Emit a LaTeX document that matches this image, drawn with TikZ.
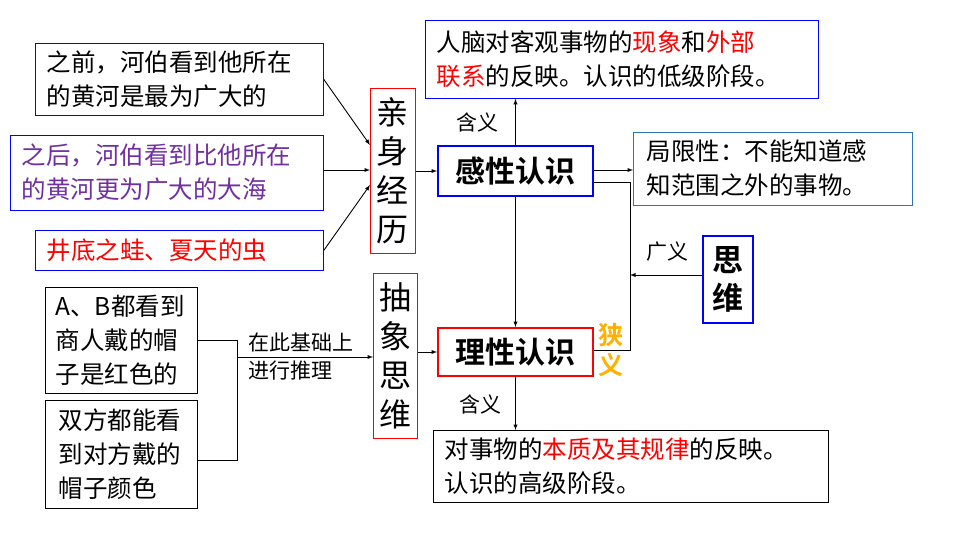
\documentclass[tikz,border=0pt]{standalone}
\usepackage{fontspec}
\setmainfont{Noto Sans CJK SC}[BoldFont={* Bold}]
\begin{document}
\begin{tikzpicture}[x=1pt,y=-1pt,
  bx/.style={draw=#1,line width=0.8pt,inner sep=0pt},
  txt/.style={font=\fontsize{24.5}{34}\selectfont,align=left,anchor=west},
  big/.style={font=\bfseries\fontsize{30}{34}\selectfont},
  lab/.style={font=\fontsize{21}{24}\selectfont},
  ar/.style={-latex,line width=0.9pt},
  ln/.style={line width=0.8pt}]
\useasboundingbox (0,0) rectangle (960,540);
\definecolor{pur}{RGB}{112,48,160}
\definecolor{org}{RGB}{255,176,0}
\definecolor{lb}{RGB}{46,117,182}
% left boxes
\node[bx=blue,minimum width=288,minimum height=72,anchor=north west] (A) at (35,43) {};
\node[txt] at (43,79) {之前，河伯看到他所在\\的黄河是最为广大的};
\node[bx=blue,minimum width=313,minimum height=75,anchor=north west] (B) at (10,135) {};
\node[txt,text=pur] at (18,172) {之后，河伯看到比他所在\\的黄河更为广大的大海};
\node[bx=blue,minimum width=288,minimum height=40,anchor=north west] (C) at (35,230) {};
\node[txt,text=red] at (43,250) {井底之蛙、夏天的虫};
\node[bx=red,minimum width=45,minimum height=165,anchor=north west] (QS) at (370,88) {};
\node[font=\fontsize{32}{39}\selectfont,align=center] at (QS.center) {亲\\身\\经\\历};
\node[bx=blue,line width=2pt,minimum width=155,minimum height=50,anchor=north west] (GX) at (437,145) {};
\node[big] at (GX.center) {感性认识};
\node[bx=blue,minimum width=393,minimum height=78,anchor=north west] (RN) at (425,20) {};
\node[txt] at (433,59) {人脑对客观事物的\textcolor{red}{现象}和\textcolor{red}{外部}\\\textcolor{red}{联系}的反映。认识的低级阶段。};
\node[bx=lb,minimum width=279,minimum height=73,anchor=north west] (JX) at (633,132) {};
\node[txt] at (643,168) {局限性：不能知道感\\知范围之外的事物。};
\node[bx=blue,line width=2pt,minimum width=50,minimum height=87,anchor=north west] (SW) at (702,235) {};
\node[font=\bfseries\fontsize{31}{38}\selectfont,align=center] at (SW.center) {思\\维};
\node[bx=red,line width=2pt,minimum width=155,minimum height=48,anchor=north west] (LX) at (437,327) {};
\node[big] at (LX.center) {理性认识};
\node[font=\bfseries\fontsize{25}{30}\selectfont,text=org,align=center] at (611,350) {狭\\义};
\node[bx=red,minimum width=44,minimum height=165,anchor=north west] (CX) at (373,273) {};
\node[font=\fontsize{32}{39}\selectfont,align=center] at (CX.center) {抽\\象\\思\\维};
\node[bx=black,minimum width=152,minimum height=106,anchor=north west] (AB) at (45,287) {};
\node[txt] at (52,340) {A、B都看到\\商人戴的帽\\子是红色的};
\node[bx=black,minimum width=152,minimum height=108,anchor=north west] (SF) at (45,400) {};
\node[txt] at (55,454) {双方都能看\\到对方戴的\\帽子颜色};
\node[font=\fontsize{21}{28}\selectfont,align=left,anchor=west] at (245,357) {在此基础上\\进行推理};
\node[bx=black,minimum width=395,minimum height=72,anchor=north west] (DS) at (433,430) {};
\node[txt] at (441,466) {对事物的\textcolor{red}{本质及其规律}的反映。\\认识的高级阶段。};
\node[lab] at (477,122) {含义};
\node[lab] at (480,404) {含义};
\node[lab] at (667,252) {广义};
% connectors
\draw[ar] (A.east) -- (QS.west |- 0,145);
\draw[ar] (B.east |- 0,170) -- (QS.west |- 0,170);
\draw[ar] (C.east) -- (QS.west |- 0,185);
\draw[ar] (QS.east |- GX.west) -- (GX.west);
\draw[ar] (GX.north) -- (RN.south -| GX.north);
\draw[ar] (GX.east |- 0,170) -- (JX.west |- 0,170);
\coordinate (k) at (630,182);
\draw[ln] (GX.east |- k) -- (k) -- (630,350) -- (LX.east |- 0,350);
\draw[ar] (SW.west |- 0,275) -- (630,275);
\draw[ar] (GX.south) -- (LX.north);
\draw[ar] (LX.south) -- (DS.north -| LX.south);
\draw[ar] (CX.east |- LX.west) -- (LX.west);
\coordinate (b) at (237,357);
\draw[ln] (AB.east |- 0,340) -- (237,340) -- (237,460) -- (SF.east |- 0,460);
\draw[ar] (b) -- (CX.west |- b);
\end{tikzpicture}
\end{document}
